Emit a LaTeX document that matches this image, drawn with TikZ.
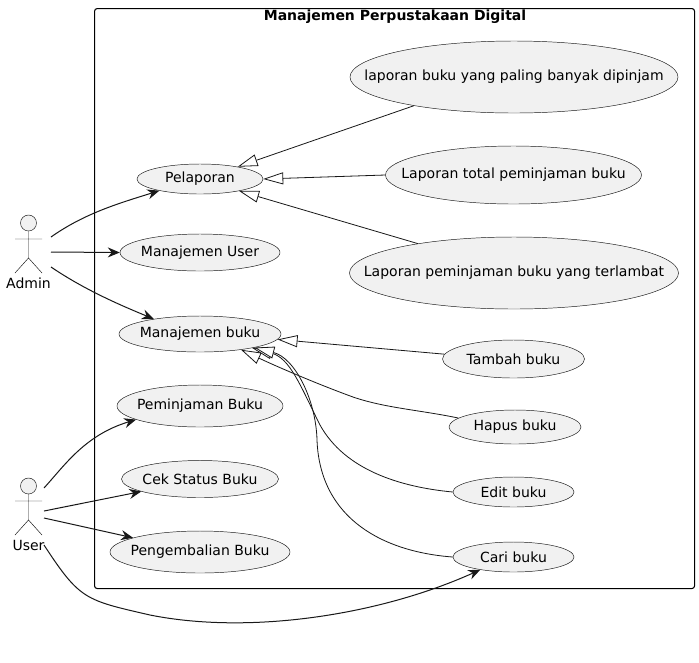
\documentclass[tikz,border=0pt]{standalone}
\usepackage{fontspec}
\setmainfont{DejaVu Sans}
\usetikzlibrary{shapes.geometric,arrows.meta}
\definecolor{ucfill}{HTML}{F1F1F1}
\definecolor{ucline}{HTML}{181818}
\newcommand{\uctext}[1]{\makebox[0pt]{#1}}
\tikzset{
  x=0.75pt,y=-0.75pt,
  font=\fontsize{10.5pt}{12pt}\selectfont,
  usecase/.style n args={2}{ellipse,draw=ucline,fill=ucfill,line width=0.35pt,inner sep=0pt,
     minimum width=#1*1.5pt,minimum height=#2*1.5pt,text=black},
  assoc/.style={draw=ucline,line width=0.75pt,-{Stealth[length=9pt,width=7.5pt,inset=3pt]}},
  gener/.style={draw=ucline,line width=0.6pt,-{Triangle[open,length=15pt,width=9pt,fill=white]}},
  stick/.style={draw=ucline,line width=0.35pt},
  actorbox/.style={inner sep=0pt,outer sep=0pt,anchor=north west},
  frame/.style={draw=black,line width=0.8pt,rounded corners=2pt}
}
\begin{document}
\begin{tikzpicture}
\useasboundingbox (0,0) rectangle (699,662);
\fill[white] (0,0) rectangle (699,662);
% system frame
\node[frame,inner sep=0pt,minimum width=450pt,minimum height=435pt,anchor=north west] (system) at (94,8) {};
\node[font=\fontsize{10.5pt}{12pt}\selectfont\bfseries] (title) at (395,17) {Manajemen Perpustakaan Digital};
% use cases
\node[usecase={63}{15}] (pelaporan) at (200,179) {\uctext{Pelaporan}};
\node[usecase={80}{18.5}] (muser) at (200,252.5) {\uctext{Manajemen User}};
\node[usecase={81}{18}] (mbuku) at (200,334) {\uctext{Manajemen buku}};
\node[usecase={83}{21}] (pinjam) at (200,406) {\uctext{Peminjaman Buku}};
\node[usecase={78.5}{18.5}] (cek) at (200,479) {\uctext{Cek Status Buku}};
\node[usecase={90}{21}] (kembali) at (200,552) {\uctext{Pengembalian Buku}};
\node[usecase={164}{36}] (lap1) at (514,77) {\uctext{laporan buku yang paling banyak dipinjam}};
\node[usecase={128}{29}] (lap2) at (513.5,175) {\uctext{Laporan total peminjaman buku}};
\node[usecase={164.5}{36}] (lap3) at (514,273) {\uctext{Laporan peminjaman buku yang terlambat}};
\node[usecase={71}{19}] (tambah) at (513.5,359) {\uctext{Tambah buku}};
\node[usecase={66}{17}] (hapus) at (515,427) {\uctext{Hapus buku}};
\node[usecase={60.5}{15}] (edit) at (513.5,492) {\uctext{Edit buku}};
\node[usecase={60.5}{15}] (cari) at (513.5,557) {\uctext{Cari buku}};
% actors
\node[actorbox,minimum width=34.5pt,minimum height=22.5pt] (admin) at (5,237) {};
\node[actorbox,minimum width=29.25pt,minimum height=22.5pt] (user) at (5,488) {};
\draw[stick,fill=ucfill] (28.5,223) circle[radius=8];
\draw[stick] (28.5,231) -- (28.5,258) (15,239) -- (42,239) (15,273) -- (28.5,258) -- (42,273);
\node (adminlabel) at (28.5,283) {Admin};
\draw[stick,fill=ucfill] (28.5,486) circle[radius=8];
\draw[stick] (28.5,494) -- (28.5,520) (15,501) -- (42,501) (15,535) -- (28.5,520) -- (42,535);
\node (userlabel) at (28.5,545) {User};
% associations
\draw[assoc] (admin.north east) .. controls (85,213) and (120,203) .. (pelaporan.196);
\draw[assoc] (admin.east) -- (muser.west);
\draw[assoc] (admin.south east) .. controls (85,290) and (120,305) .. (mbuku.162);
\draw[assoc] (user.north east) .. controls (65,465) and (85,435) .. (pinjam.192);
\draw[assoc] ([yshift=-6pt]user.east) -- (cek.192);
\draw[assoc] (user.south east) -- (kembali.168);
\draw[assoc] (44,545) .. controls (80,600) and (85,600) .. (150,615) .. controls (250,635) and (380,615) .. (cari.201);
% generalisations
\draw[gener] (lap1.196) -- (pelaporan.18);
\draw[gener] (lap2.west) -- (pelaporan.east);
\draw[gener] (lap3.163) -- (pelaporan.-17);
\draw[gener] (tambah.176) -- (mbuku.-4);
\draw[gener] (hapus.171) .. controls (420,410) and (385,408) .. (353,397) .. controls (320,385) and (280,368) .. (mbuku.-21);
\draw[gener] (edit.west) .. controls (400,487) and (345,470) .. (320,425) .. controls (300,385) and (290,358) .. (mbuku.-15);
\draw[gener] (cari.west) .. controls (385,552) and (320,520) .. (317,440) .. controls (316,400) and (295,358) .. (mbuku.-14);
\end{tikzpicture}
\end{document}
